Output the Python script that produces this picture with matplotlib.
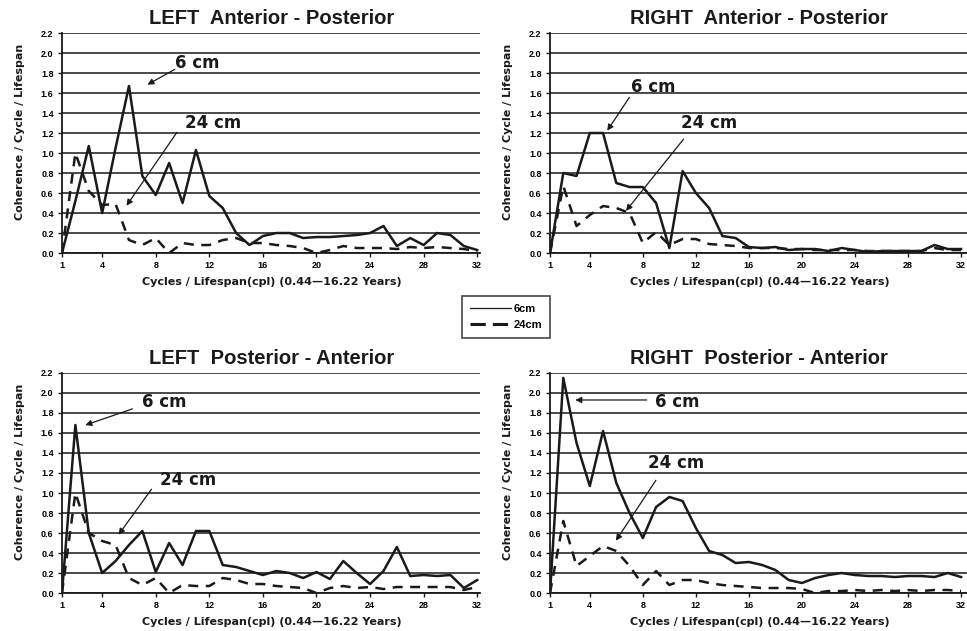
import matplotlib
matplotlib.use("Agg")
import matplotlib.pyplot as plt
from matplotlib.lines import Line2D

# cycles / lifespan
cycles = list(range(1, 33))

left_ap_6 = [0, 0.52, 1.07, 0.40, 1.05, 1.67, 0.77, 0.58, 0.90, 0.50, 1.03, 0.57, 0.45, 0.20, 0.08, 0.17,
             0.20, 0.20, 0.15, 0.16, 0.16, 0.17, 0.18, 0.20, 0.27, 0.07, 0.15, 0.08, 0.20, 0.18, 0.07, 0.03]
left_ap_24 = [0, 1.00, 0.62, 0.48, 0.49, 0.13, 0.08, 0.15, 0.00, 0.10, 0.08, 0.08, 0.13, 0.15, 0.10, 0.10,
              0.08, 0.07, 0.05, 0.00, 0.03, 0.07, 0.05, 0.05, 0.05, 0.04, 0.06, 0.05, 0.06, 0.05, 0.04, 0.02]

right_ap_6 = [0, 0.80, 0.77, 1.20, 1.20, 0.70, 0.66, 0.66, 0.50, 0.05, 0.82, 0.60, 0.45, 0.17, 0.15, 0.06,
              0.05, 0.06, 0.03, 0.04, 0.04, 0.02, 0.05, 0.03, 0.01, 0.02, 0.02, 0.02, 0.02, 0.08, 0.04, 0.04]
right_ap_24 = [0, 0.67, 0.27, 0.38, 0.47, 0.45, 0.40, 0.10, 0.21, 0.08, 0.14, 0.14, 0.09, 0.08, 0.07, 0.05,
               0.05, 0.05, 0.04, 0.04, 0.03, 0.03, 0.03, 0.03, 0.02, 0.02, 0.02, 0.02, 0.02, 0.05, 0.03, 0.03]

left_pa_6 = [0, 1.68, 0.60, 0.20, 0.32, 0.48, 0.62, 0.21, 0.50, 0.28, 0.62, 0.62, 0.28, 0.26, 0.22, 0.18,
             0.22, 0.20, 0.15, 0.21, 0.14, 0.32, 0.20, 0.09, 0.22, 0.46, 0.17, 0.18, 0.17, 0.18, 0.05, 0.13]
left_pa_24 = [0, 1.00, 0.60, 0.52, 0.48, 0.15, 0.08, 0.15, 0.00, 0.08, 0.07, 0.07, 0.15, 0.13, 0.09, 0.09,
              0.07, 0.06, 0.05, 0.00, 0.05, 0.07, 0.05, 0.06, 0.04, 0.06, 0.06, 0.06, 0.06, 0.06, 0.03, 0.06]

right_pa_6 = [0, 2.15, 1.50, 1.07, 1.62, 1.10, 0.80, 0.55, 0.86, 0.96, 0.92, 0.65, 0.42, 0.38, 0.30, 0.31,
              0.28, 0.23, 0.13, 0.10, 0.15, 0.18, 0.20, 0.18, 0.17, 0.17, 0.16, 0.17, 0.17, 0.16, 0.20, 0.16]
right_pa_24 = [0, 0.72, 0.27, 0.37, 0.47, 0.42, 0.27, 0.08, 0.22, 0.08, 0.13, 0.13, 0.10, 0.08, 0.07, 0.06,
               0.05, 0.05, 0.05, 0.04, 0.00, 0.02, 0.02, 0.03, 0.02, 0.03, 0.02, 0.03, 0.02, 0.03, 0.03, 0.02]

titles = ["LEFT  Anterior - Posterior", "RIGHT  Anterior - Posterior",
          "LEFT  Posterior - Anterior", "RIGHT  Posterior - Anterior"]
x_ticks = [1, 4, 8, 12, 16, 20, 24, 28, 32]
y_ticks = [0.0, 0.2, 0.4, 0.6, 0.8, 1.0, 1.2, 1.4, 1.6, 1.8, 2.0, 2.2]
legend_labels = ["6cm", "24cm"]

# annotation positions: (text xy, arrow tail, arrow head) for 6 cm and 24 cm
notes = [
    (((11.1, 1.90), (9.6, 1.85), (7.2, 1.67)), ((12.3, 1.30), (9.7, 1.23), (5.7, 0.45))),
    (((8.8, 1.66), (7.1, 1.58), (5.2, 1.20)), ((13.0, 1.30), (11.2, 1.16), (6.6, 0.40))),
    (((8.6, 1.91), (6.45, 1.85), (2.55, 1.67)), ((10.4, 1.13), (7.8, 1.06), (5.1, 0.56))),
    (((10.6, 1.91), (8.5, 1.93), (2.7, 1.93)), ((10.5, 1.30), (9.1, 1.15), (5.85, 0.50))),
]

INK = "#1a1a1a"
NARROW = ["Liberation Sans Narrow", "Liberation Sans", "DejaVu Sans"]


def draw_panel(ax, title, y6, y24, note, xmax):
    ax.set_axisbelow(True)
    for v in y_ticks:
        ax.axhline(v, color="#3a3a3a", lw=1.3, zorder=0)
    ax.plot(cycles, y6, color=INK, lw=1.8, zorder=3)
    ax.plot(cycles, y24, color=INK, lw=1.8, dashes=(4, 3), zorder=3)

    ax.set_xlim(1, xmax)
    ax.set_ylim(0, 2.2)
    ax.set_xticks(x_ticks)
    ax.set_yticks(y_ticks)
    ax.set_yticklabels(["%.1f" % v for v in y_ticks])
    ax.tick_params(axis="both", length=3, width=1, color=INK, pad=3)
    for lab in ax.get_xticklabels() + ax.get_yticklabels():
        lab.set_fontsize(6.5)
        lab.set_fontweight("bold")
        lab.set_family(NARROW)

    for s in ["top", "right"]:
        ax.spines[s].set_visible(False)
    for s in ["left", "bottom"]:
        ax.spines[s].set_color(INK)
        ax.spines[s].set_linewidth(1.3)

    ax.set_ylabel("Coherence / Cycle / Lifespan", fontsize=8, fontweight="bold", color=INK)
    ax.yaxis.set_label_coords(-0.088, 0.55)
    ax.set_xlabel("Cycles / Lifespan(cpl) (0.44\u201416.22 Years)", fontsize=8,
                  fontweight="bold", color=INK)
    ax.xaxis.set_label_coords(0.502, -0.108)
    ax.text(0.502, 1.068, title, transform=ax.transAxes, ha="center", va="center",
            fontsize=14.5, fontweight="bold", family=NARROW, color=INK)

    for label, (txt, tail, head) in zip(["6 cm", "24 cm"], note):
        ax.text(txt[0], txt[1], label, ha="center", va="center", fontsize=12,
                fontweight="bold", color=INK, zorder=5)
        ax.annotate("", xy=head, xytext=tail,
                    arrowprops=dict(arrowstyle="-|>", color=INK, lw=0.9,
                                    mutation_scale=9), zorder=5)


fig = plt.figure(figsize=(9.67, 6.31), dpi=100)
w, h = 0.4322, 0.3487
positions = [(0.0641, 0.599, w, h), (0.5688, 0.599, 0.4312, h),
             (0.0641, 0.0602, w, h), (0.5688, 0.0602, 0.4312, h)]
x_max = [32.2, 32.45, 32.2, 32.45]
series = [(left_ap_6, left_ap_24), (right_ap_6, right_ap_24),
          (left_pa_6, left_pa_24), (right_pa_6, right_pa_24)]

for pos, title, (y6, y24), note, xm in zip(positions, titles, series, notes, x_max):
    ax = fig.add_axes(pos)
    draw_panel(ax, title, y6, y24, note, xm)

handles = [Line2D([], [], color=INK, lw=0.9),
           Line2D([], [], color=INK, lw=2.2, dashes=(5, 2.3))]
leg = fig.legend(handles, legend_labels, loc="center", bbox_to_anchor=(506 / 967, 1 - 317 / 631),
                 fontsize=8, frameon=True, fancybox=False, handlelength=3.7,
                 borderpad=0.7, labelspacing=0.55, handletextpad=0.2)
leg.get_frame().set_edgecolor(INK)
leg.get_frame().set_linewidth(1.2)
for t in leg.get_texts():
    t.set_fontweight("bold")
    t.set_family(NARROW)

fig.savefig("out.png", dpi=100)
